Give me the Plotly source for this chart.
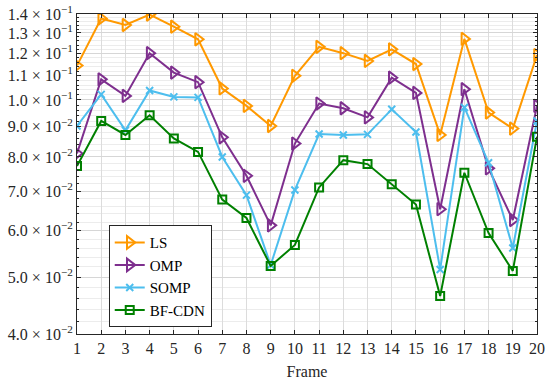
import plotly.graph_objects as go
import numpy as np

frames = list(range(1, 21))
ls = [0.1144, 0.1376, 0.1341, 0.1397, 0.1332, 0.1268, 0.1046, 0.0977, 0.0903, 0.1099,
      0.1231, 0.1201, 0.1165, 0.1219, 0.1151, 0.0872, 0.1270, 0.0952, 0.0894, 0.1192]
omp = [0.0811, 0.1084, 0.1016, 0.1201, 0.1113, 0.1072, 0.0864, 0.0743, 0.0612, 0.0843,
       0.0986, 0.0968, 0.0934, 0.1091, 0.1028, 0.0652, 0.1043, 0.0765, 0.0625, 0.0977]
somp = [0.0903, 0.1022, 0.0888, 0.1038, 0.1012, 0.1010, 0.0800, 0.0689, 0.0524, 0.0703,
        0.0875, 0.0872, 0.0874, 0.0964, 0.0882, 0.0515, 0.0971, 0.0782, 0.0560, 0.0921]
bfcdn = [0.0772, 0.0921, 0.0872, 0.0942, 0.0860, 0.0816, 0.0677, 0.0630, 0.0522, 0.0567,
         0.0710, 0.0790, 0.0778, 0.0719, 0.0664, 0.0464, 0.0752, 0.0594, 0.0512, 0.0866]

ytick_vals = [0.04, 0.05, 0.06, 0.07, 0.08, 0.09, 0.10, 0.11, 0.12, 0.13, 0.14]
ytick_text = ["4.0 × 10<sup>−2</sup>", "5.0 × 10<sup>−2</sup>", "6.0 × 10<sup>−2</sup>",
              "7.0 × 10<sup>−2</sup>", "8.0 × 10<sup>−2</sup>", "9.0 × 10<sup>−2</sup>",
              "1.0 × 10<sup>−1</sup>", "1.1 × 10<sup>−1</sup>", "1.2 × 10<sup>−1</sup>",
              "1.3 × 10<sup>−1</sup>", "1.4 × 10<sup>−1</sup>"]
minor_vals = [round(0.04 + 0.002 * i, 4) for i in range(51)]

series = [
    ("LS", ls, "#FF9900", "triangle-right-open", 11),
    ("OMP", omp, "#7E2F8E", "triangle-right-open", 11),
    ("SOMP", somp, "#4DBEEE", "x-thin-open", 7),
    ("BF-CDN", bfcdn, "#008000", "square-open", 8),
]

fig = go.Figure()
for name, vals, color, sym, size in series:
    fig.add_trace(go.Scatter(
        x=frames, y=vals, name=name, mode="lines+markers",
        line=dict(color=color, width=2),
        marker=dict(symbol=sym, size=size, color=color, line=dict(color=color, width=2)),
    ))

font_family = "Liberation Serif, DejaVu Serif, serif"
axis_line = "#262626"
fig.update_layout(
    width=550, height=385,
    margin=dict(l=77, r=13, t=14, b=51),
    paper_bgcolor="white", plot_bgcolor="white",
    font=dict(family=font_family, size=16, color="#262626"),
    showlegend=True,
    legend=dict(x=0.069, y=0.34, xanchor="left", yanchor="top",
                bgcolor="white", bordercolor="#262626", borderwidth=1,
                font=dict(family=font_family, size=15, color="#000000"),
                tracegroupgap=0, itemwidth=30),
    xaxis=dict(
        title=dict(text="Frame", font=dict(size=16), standoff=9),
        range=[1, 20], tickmode="array", tickvals=frames, ticktext=[str(f) for f in frames],
        ticks="inside", ticklen=4, tickcolor=axis_line,
        showline=True, linecolor=axis_line, linewidth=1, mirror="ticks",
        showgrid=True, gridcolor="#dcdcdc", gridwidth=1, zeroline=False,
        tickfont=dict(size=16), automargin=False,
    ),
    yaxis=dict(
        type="log", range=[np.log10(0.04), np.log10(0.14)],
        tickmode="array", tickvals=ytick_vals, ticktext=ytick_text,
        ticks="inside", ticklen=4, tickcolor=axis_line,
        showline=True, linecolor=axis_line, linewidth=1, mirror="ticks",
        showgrid=True, gridcolor="#d6d6d6", gridwidth=1, zeroline=False,
        tickfont=dict(size=16), automargin=False,
        minor=dict(tickmode="array", tickvals=minor_vals, ticks="inside", ticklen=2,
                   tickcolor=axis_line, showgrid=True, gridcolor="#ececec", gridwidth=1),
    ),
)

fig.write_html("out.html", config={"displayModeBar": False},
               post_script="document.body.style.margin='0';document.body.style.overflow='hidden';")
